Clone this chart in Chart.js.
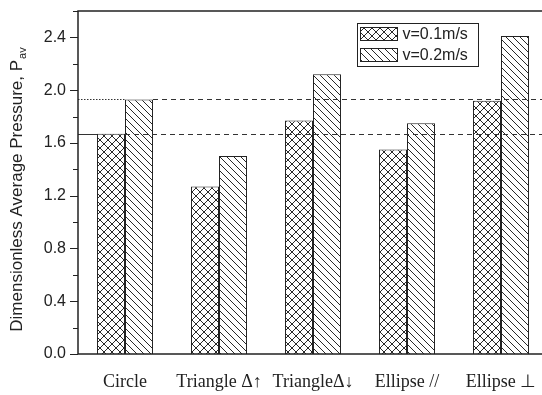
<!DOCTYPE html>
<html>
<head>
<meta charset="utf-8">
<script src="https://cdn.jsdelivr.net/npm/chart.js@4"></script>
<style>
  html, body { margin: 0; padding: 0; background: #fff; overflow: hidden; }
  #wrap { width: 542px; height: 395px; overflow: hidden; }
</style>
</head>
<body>
<div id="wrap">
  <canvas id="pressChart" width="560" height="395" style="width:560px;height:395px"></canvas>
</div>
<script>
// data
const shapes = ['Circle', 'Triangle \u0394\u2191', 'Triangle\u0394\u2193', 'Ellipse //', 'Ellipse \u22A5'];
const slowVals = [1.67, 1.27, 1.77, 1.55, 1.92];   // v=0.1m/s
const fastVals = [1.93, 1.50, 2.12, 1.75, 2.41];   // v=0.2m/s
const seriesNames = ['v=0.1m/s', 'v=0.2m/s'];
const yMax = 2.6;
const yStep = 0.2;

const ink = '#222';

function makePattern(size, cross) {
  const c = document.createElement('canvas');
  c.width = size; c.height = size;
  const g = c.getContext('2d');
  g.fillStyle = '#fff';
  g.fillRect(0, 0, size, size);
  g.strokeStyle = '#111';
  g.lineWidth = 0.9;
  g.beginPath();
  for (let k = -size; k <= size; k += size) {
    g.moveTo(k, 0); g.lineTo(k + size, size);        // "\" lines
    if (cross) { g.moveTo(k + size, 0); g.lineTo(k, size); }  // "/" lines
  }
  g.stroke();
  return g.createPattern(c, 'repeat');
}
const crossFill = makePattern(8, true);
const hatchFill = makePattern(7, false);

// frame, ticks, reference lines, legend and the y title
const decor = {
  id: 'decor',
  afterDatasetsDraw(chart) {
    const { ctx, chartArea: a, scales } = chart;
    const y = scales.y;
    ctx.save();

    // reference lines at the circle values
    const m0 = chart.getDatasetMeta(0).data[0];
    const m1 = chart.getDatasetMeta(1).data[0];
    const yLow = Math.round(y.getPixelForValue(slowVals[0])) + 0.5;
    const yHigh = Math.round(y.getPixelForValue(fastVals[0])) + 0.5;
    ctx.strokeStyle = '#333';
    ctx.lineWidth = 1;
    // lower: solid to the bar, then dashed
    ctx.beginPath(); ctx.moveTo(a.left, yLow); ctx.lineTo(m0.x - m0.width / 2, yLow); ctx.stroke();
    ctx.setLineDash([5, 4]);
    ctx.beginPath(); ctx.moveTo(m0.x + m0.width / 2, yLow); ctx.lineTo(a.right, yLow); ctx.stroke();
    ctx.beginPath(); ctx.moveTo(m1.x + m1.width / 2, yHigh); ctx.lineTo(a.right, yHigh); ctx.stroke();
    // upper: dotted up to the bar
    ctx.setLineDash([1.5, 1.5]);
    ctx.beginPath(); ctx.moveTo(a.left, yHigh); ctx.lineTo(m1.x - m1.width / 2, yHigh); ctx.stroke();
    ctx.setLineDash([]);

    // frame
    ctx.strokeStyle = ink;
    ctx.lineWidth = 1.5;
    ctx.beginPath();
    ctx.moveTo(a.right, a.top); ctx.lineTo(a.left, a.top);
    ctx.lineTo(a.left, a.bottom); ctx.lineTo(a.right, a.bottom);
    ctx.stroke();

    // y ticks, major and minor
    ctx.lineWidth = 1;
    y.ticks.forEach(t => {
      const py = Math.round(y.getPixelForValue(t.value)) + 0.5;
      const major = Math.round(t.value * 10) % 4 === 0;
      ctx.beginPath();
      ctx.moveTo(a.left - (major ? 8 : 5), py);
      ctx.lineTo(a.left, py);
      ctx.stroke();
    });

    // legend
    const lx = 357.5, ly = 23.5;
    ctx.lineWidth = 1;
    ctx.strokeStyle = ink;
    ctx.fillStyle = '#fff';
    ctx.fillRect(lx, ly, 121, 43);
    ctx.strokeRect(lx, ly, 121, 43);
    ctx.font = '16px "Liberation Sans", Arial, sans-serif';
    ctx.textBaseline = 'middle';
    chart.data.datasets.forEach((ds, i) => {
      const sy = ly + 4 + i * 21;
      ctx.fillStyle = ds.backgroundColor;
      ctx.fillRect(lx + 3, sy, 37, 13);
      ctx.strokeRect(lx + 3, sy, 37, 13);
      ctx.fillStyle = ink;
      ctx.fillText(ds.label, lx + 45, sy + 7);
    });

    // y title with subscript
    const main = 'Dimensionless Average Pressure, P';
    const sub = 'av';
    ctx.translate(17, 190);
    ctx.rotate(-Math.PI / 2);
    ctx.font = '17px "Liberation Sans", Arial, sans-serif';
    const wMain = ctx.measureText(main).width;
    ctx.font = '11px "Liberation Sans", Arial, sans-serif';
    const wSub = ctx.measureText(sub).width;
    const start = -(wMain + wSub) / 2;
    ctx.fillStyle = ink;
    ctx.textBaseline = 'middle';
    ctx.font = '17px "Liberation Sans", Arial, sans-serif';
    ctx.fillText(main, start, 0);
    ctx.font = '11px "Liberation Sans", Arial, sans-serif';
    ctx.fillText(sub, start + wMain + 1, 6);
    ctx.restore();
  }
};

new Chart(document.getElementById('pressChart'), {
  type: 'bar',
  data: {
    labels: shapes,
    datasets: [
      { label: seriesNames[0], data: slowVals, backgroundColor: crossFill, borderColor: ink, borderWidth: 1 },
      { label: seriesNames[1], data: fastVals, backgroundColor: hatchFill, borderColor: ink, borderWidth: 1 }
    ]
  },
  options: {
    responsive: false,
    devicePixelRatio: 1,
    animation: false,
    layout: { padding: { top: 11, right: 12, left: 0, bottom: 0 } },
    datasets: { bar: { categoryPercentage: 0.596, barPercentage: 1.0 } },
    plugins: { legend: { display: false }, tooltip: { enabled: false } },
    scales: {
      x: {
        grid: { display: false, drawTicks: false },
        border: { display: false },
        ticks: {
          color: ink,
          padding: 17,
          maxRotation: 0,
          autoSkip: false,
          font: { family: '"Liberation Serif", "Times New Roman", serif', size: 18 }
        },
        afterFit(s) { s.height = 41; s.paddingLeft = 0; s.paddingRight = 0; }
      },
      y: {
        min: 0,
        max: yMax,
        grid: { display: false, drawTicks: false },
        border: { display: false },
        ticks: {
          stepSize: yStep,
          color: ink,
          padding: 12,
          font: { family: '"Liberation Sans", Arial, sans-serif', size: 16 },
          callback: v => (Math.round(v * 10) % 4 === 0 ? v.toFixed(1) : '')
        },
        afterFit(s) { s.width = 78; s.paddingTop = 0; s.paddingBottom = 0; }
      }
    }
  },
  plugins: [decor]
});
</script>
</body>
</html>
